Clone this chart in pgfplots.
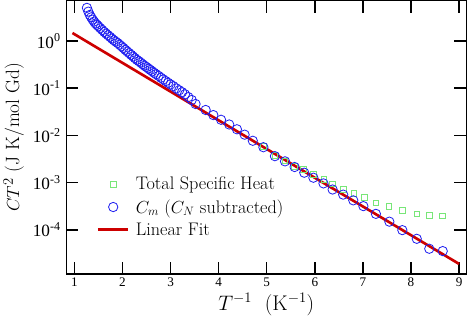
\documentclass[border=0pt]{standalone}
\usepackage{fontspec}
\usepackage{pgfplots}
\pgfplotsset{compat=1.18}
\newfontfamily\tickfont{Liberation Serif}
\definecolor{circblue}{RGB}{30,30,240}
\definecolor{sqgreen}{RGB}{120,230,120}
\definecolor{fitred}{RGB}{205,0,0}
\begin{document}
\begin{tikzpicture}
\begin{axis}[
  scale only axis,
  width=394bp, height=269bp,
  xmin=0.83, xmax=9.15,
  ymode=log, ymin=1.17e-5, ymax=7.1,
  xtick={1,2,3,4,5,6,7,8,9},
  ytick={1e-4,1e-3,1e-2,1e-1,1},
  yticklabels={10\textsuperscript{-4},10\textsuperscript{-3},10\textsuperscript{-2},10\textsuperscript{-1},10\textsuperscript{0}},
  xticklabels={1,2,3,4,5,6,7,8,9},
  yminorticks=false,
  tick align=inside,
  major tick length=12bp,
  axis line style={line width=1.4bp},
  every tick/.style={line width=1.4bp, black},
  xticklabel style={font=\fontsize{13}{13}\selectfont\tickfont},
  yticklabel style={font=\fontsize{17}{17}\selectfont\tickfont, xshift=-2bp},
  xlabel style={font=\fontsize{21}{23}\selectfont},
  ylabel style={font=\fontsize{19}{21}\selectfont, yshift=2bp},
  xlabel={$T^{-1}$\ \ (K$^{-1}$)},
  ylabel={$CT^2$ (J K/mol Gd)},
  legend style={draw=none, fill=none, at={(0.068,0.37)}, anchor=north west,
    font=\fontsize{18}{21}\selectfont, row sep=4bp,
    /tikz/every odd column/.append style={column sep=4bp}},
  legend cell align=left,
  legend image code/.code={\draw[mark repeat=2, mark phase=2, #1]
    plot coordinates {(0bp,0bp) (15bp,0bp) (30bp,0bp)};},
]
\addplot[only marks, mark=square, mark size=2.8bp, sqgreen, mark options={line width=0.8bp}] coordinates {
(4.93,0.00575)(5.17,0.00372)(5.38,0.00288)(5.58,0.00224)(5.76,0.00191)
(5.97,0.00148)(6.19,0.00117)(6.36,9.33e-4)(6.59,7.24e-4)(6.81,5.89e-4)
(7.03,4.79e-4)(7.27,3.72e-4)(7.54,3.13e-4)(7.82,2.57e-4)(8.12,2.19e-4)
(8.38,2.00e-4)(8.66,1.97e-4)
};
\addlegendentry{Total Specific Heat}
\addplot[only marks, mark=o, mark size=4.6bp, circblue, mark options={line width=0.8bp}] coordinates {
(1.26,5.01)(1.29,4.17)(1.32,3.55)(1.35,3.16)(1.38,2.82)(1.41,2.57)(1.44,2.34)
(1.47,2.19)(1.50,2.04)(1.54,1.86)(1.58,1.70)(1.62,1.55)(1.66,1.43)(1.70,1.32)
(1.74,1.22)(1.78,1.12)(1.82,1.035)(1.86,0.966)(1.90,0.902)(1.94,0.832)
(1.98,0.767)(2.02,0.708)(2.06,0.646)(2.10,0.596)(2.14,0.550)(2.18,0.507)
(2.22,0.468)(2.26,0.431)(2.30,0.398)(2.34,0.372)(2.38,0.347)(2.42,0.320)
(2.46,0.299)(2.50,0.279)(2.54,0.260)(2.58,0.243)(2.62,0.226)(2.66,0.211)
(2.70,0.197)(2.75,0.182)(2.80,0.166)(2.85,0.153)(2.90,0.141)(2.95,0.130)
(3.00,0.120)(3.06,0.110)(3.12,0.0989)(3.18,0.0902)(3.24,0.0822)(3.30,0.0741)
(3.37,0.0646)(3.44,0.0562)(3.52,0.0462)
(3.73,0.0345)(3.89,0.0269)(4.05,0.0214)(4.22,0.0170)(4.38,0.01346)
(4.54,0.01035)(4.71,0.00769)(4.93,0.00562)(5.17,0.00363)(5.38,0.00282)
(5.58,0.00214)(5.78,0.00162)(5.97,0.00127)(6.18,9.62e-4)(6.37,7.14e-4)
(6.59,5.57e-4)(6.80,4.21e-4)(7.01,3.18e-4)(7.27,2.18e-4)(7.55,1.49e-4)
(7.82,9.86e-5)(8.12,6.46e-5)(8.38,3.98e-5)(8.66,3.55e-5)
};
\addlegendentry{$C_m$ ($C_N$ subtracted)}
\addplot[fitred, line width=2.6bp] coordinates {(0.96,1.47)(9.0,1.9e-5)};
\addlegendentry{Linear Fit}
\end{axis}
\end{tikzpicture}
\end{document}
